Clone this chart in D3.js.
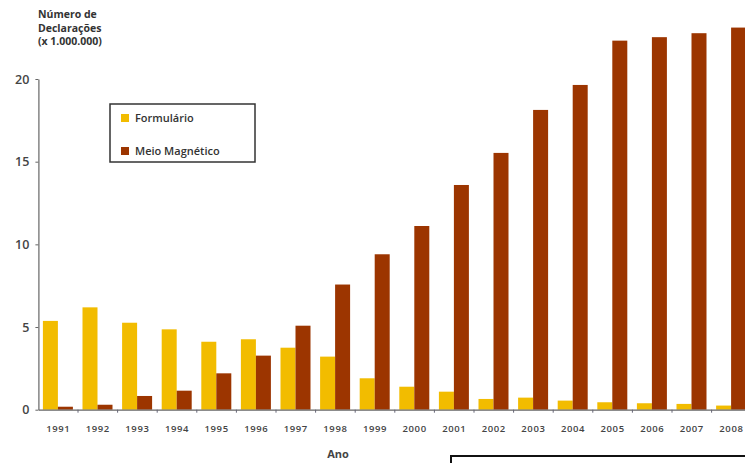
<!DOCTYPE html>
<meta charset="utf-8">
<style>
  body { margin: 0; background: white; }
  svg text { font-family: 'Open Sans', 'Liberation Sans', sans-serif; }
</style>
<script src="https://cdn.jsdelivr.net/npm/d3@7"></script>
<body>
<div id="chart"></div>
<script>
// data (millions of declarations)
const years = ["1991","1992","1993","1994","1995","1996","1997","1998","1999",
  "2000","2001","2002","2003","2004","2005","2006","2007","2008"];
const formulario = [5.37, 6.19, 5.26, 4.86, 4.11, 4.26, 3.75, 3.21, 1.90,
  1.39, 1.09, 0.65, 0.73, 0.55, 0.45, 0.39, 0.35, 0.25];
const magnetico = [0.18, 0.30, 0.83, 1.15, 2.20, 3.27, 5.08, 7.57, 9.40,
  11.11, 13.59, 15.53, 18.13, 19.64, 22.32, 22.53, 22.77, 23.11];
const yTicks = [0, 5, 10, 15, 20];
const seriesNames = ["Formulário", "Meio Magnético"];
const titleLines = ["Número de", "Declarações", "(x 1.000.000)"];

const W = 745, H = 463;
const yellow = "#f2bc00", brown = "#9c3500";

const svg = d3.select("#chart").append("svg")
  .attr("width", W).attr("height", H);

// scales
const x = d3.scaleBand().domain(years).range([38.4, 38.4 + 39.6 * years.length]);
const y = d3.scaleLinear().domain([0, 20]).range([409.7, 79]);
const barW = 15;

// y axis
const yAxis = svg.append("g")
  .attr("transform", "translate(38.4,0)")
  .call(d3.axisLeft(y).tickValues(yTicks).tickSize(3).tickSizeOuter(0).tickPadding(6));
yAxis.select(".domain").attr("stroke", "#666").attr("stroke-width", 1.2);
yAxis.selectAll(".tick line").attr("stroke", "#666");
yAxis.selectAll(".tick text")
  .attr("font-size", 12.5).attr("font-weight", 600).attr("fill", "#444");

// bars
const g = svg.append("g");
g.selectAll(".f").data(years).enter().append("rect")
  .attr("x", d => x(d) + 4.5)
  .attr("y", (d, i) => y(formulario[i]))
  .attr("width", barW)
  .attr("height", (d, i) => y(0) - y(formulario[i]))
  .attr("fill", yellow);
g.selectAll(".m").data(years).enter().append("rect")
  .attr("x", d => x(d) + 4.5 + barW)
  .attr("y", (d, i) => y(magnetico[i]))
  .attr("width", barW)
  .attr("height", (d, i) => y(0) - y(magnetico[i]))
  .attr("fill", brown);

// x axis
const xAxis = svg.append("g")
  .attr("transform", "translate(0," + y(0) + ")")
  .call(d3.axisBottom(x).tickSize(0).tickPadding(16));
xAxis.select(".domain").attr("stroke", "#666").attr("stroke-width", 1.2);
xAxis.selectAll(".tick text")
  .attr("font-size", 9.5).attr("font-weight", 600).attr("fill", "#444")
  .attr("letter-spacing", 0.6);
xAxis.selectAll(".sep").data(years.slice(1)).enter().append("line")
  .attr("x1", d => x(d)).attr("x2", d => x(d))
  .attr("y1", 0).attr("y2", 3)
  .attr("stroke", "#667");

// title (one text per line)
svg.selectAll(".ttl").data(titleLines).enter().append("text")
  .attr("x", 38).attr("y", (d, i) => 18 + i * 13.5)
  .attr("font-family", "'Liberation Sans', sans-serif")
  .attr("font-size", 10.5).attr("font-weight", 700).attr("fill", "#333")
  .text(d => d);

// legend
const leg = svg.append("g");
leg.append("rect").attr("x", 110).attr("y", 104).attr("width", 145).attr("height", 58)
  .attr("fill", "white").attr("stroke", "#333").attr("stroke-width", 1.5);
[yellow, brown].forEach((c, i) => {
  leg.append("rect").attr("x", 121).attr("y", 114 + i * 33).attr("width", 8).attr("height", 8)
    .attr("fill", c);
  leg.append("text").attr("x", 135).attr("y", 122 + i * 33)
    .attr("font-size", 11).attr("font-weight", 600).attr("fill", "#333")
    .text(seriesNames[i]);
});

// x title and bottom box
svg.append("text").attr("x", 338).attr("y", 458).attr("text-anchor", "middle")
  .attr("font-family", "'Liberation Sans', sans-serif")
  .attr("font-size", 11).attr("font-weight", 700).attr("fill", "#444").text("Ano");
svg.append("rect").attr("x", 451).attr("y", 456).attr("width", 300).attr("height", 20)
  .attr("fill", "white").attr("stroke", "#111").attr("stroke-width", 2);
</script>
</body>
